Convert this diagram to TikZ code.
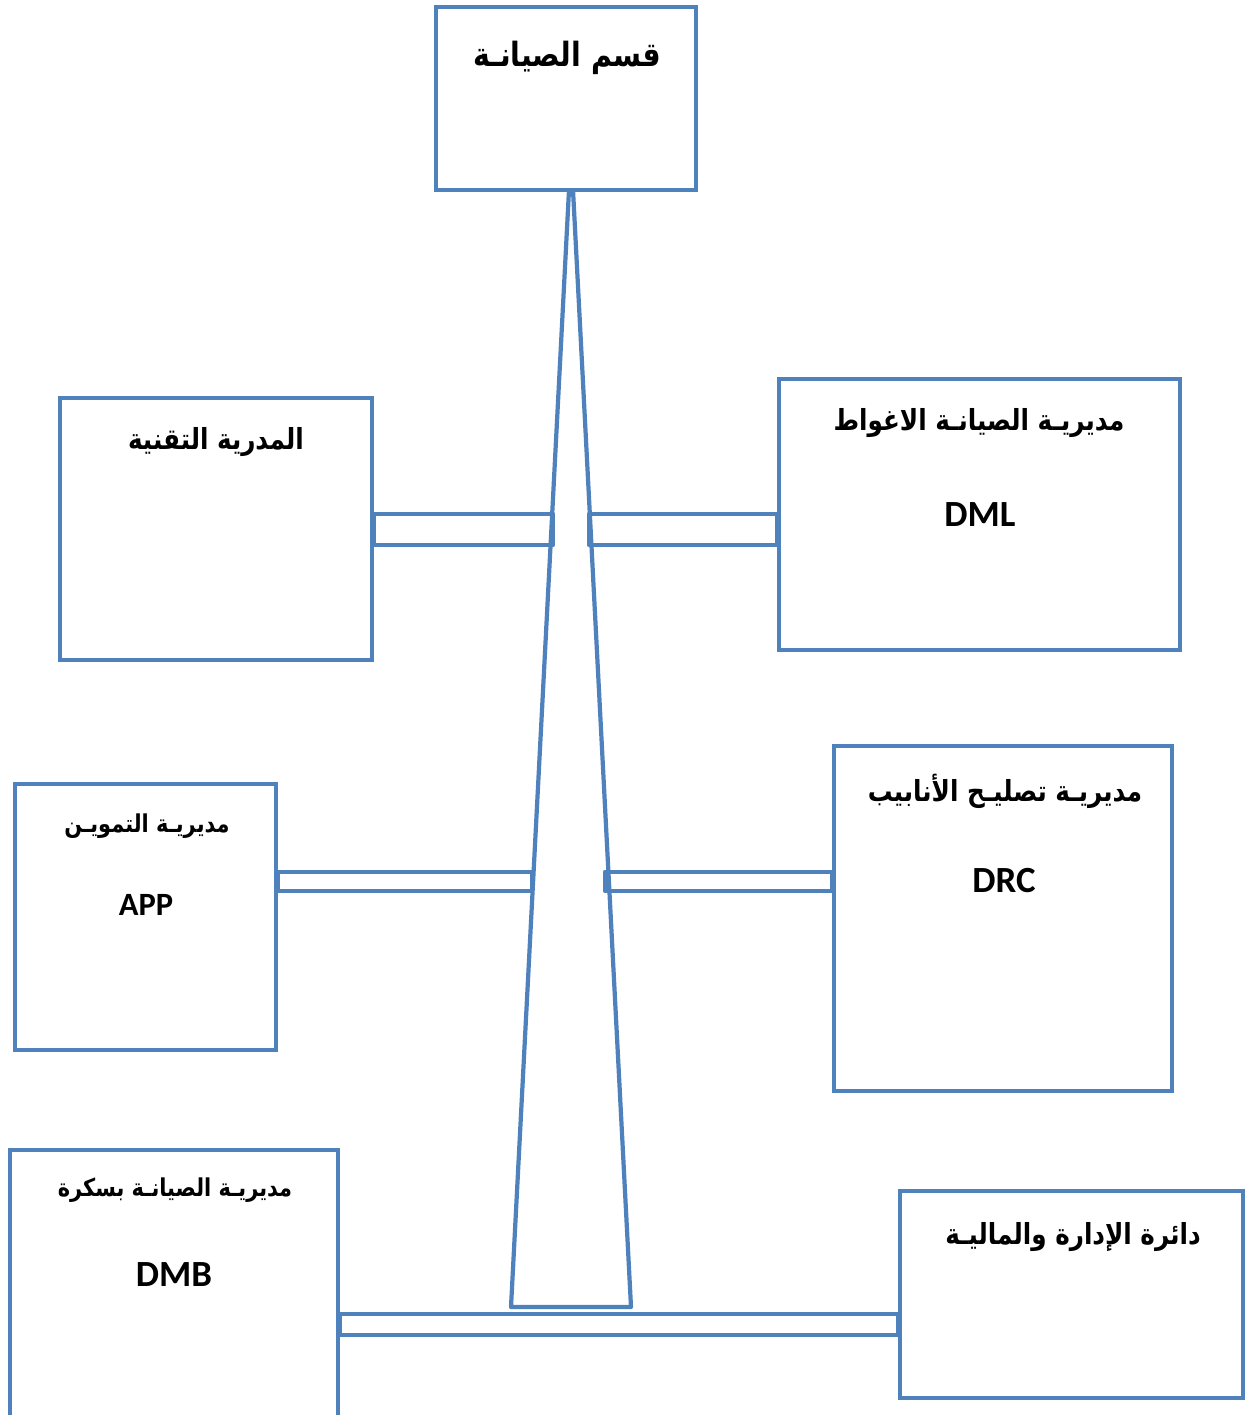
\documentclass[tikz,border=0pt]{standalone}
\usepackage{fontspec}
\usepackage{xcolor}
\usepackage{tikz}
\usetikzlibrary{
    positioning,
    calc
}
\TeXXeTstate=1
\newfontfamily\arabicfont[Script=Arabic, FakeStretch=0.85]{DejaVu Sans}
\newfontfamily\latinfont{Carlito}
\definecolor{officeblue}{HTML}{4F81BD}
\tikzset{
  box/.style = {
      draw=officeblue,
      line width=2.6pt,
      rectangle,
      inner sep=0pt
  },
  bar/.style = {
      draw=officeblue,
      line width=2.4pt,
      line join=round
  },
  head/.style = {
      font=\arabicfont\bfseries\fontsize{19}{22}\selectfont
  },
  title/.style = {
      font=\arabicfont\bfseries\fontsize{16.5}{20}\selectfont
  },
  small title/.style = {
      font=\arabicfont\bfseries\fontsize{14}{17}\selectfont
  },
  code/.style = {
      font=\latinfont\bfseries\fontsize{21}{24}\selectfont
  },
  small code/.style = {
      font=\latinfont\bfseries\fontsize{18.5}{22}\selectfont
  }
}

\begin{document}
\begin{tikzpicture}[x=0.02cm, y=-0.02cm]
    \useasboundingbox (0,0) rectangle (1253,1415);
    \clip (0,0) rectangle (1253,1415);
    % Boxes
    \node[box, minimum width=5.2cm, minimum height=3.66cm] (hq) at (566,98.5) {};
    \node[box, minimum width=6.24cm, minimum height=5.24cm] (tech) at (216,529) {};
    \node[box, minimum width=8.02cm, minimum height=5.42cm] (dml) at (979.5,514.5) {};
    \node[box, minimum width=5.22cm, minimum height=5.32cm] (app) at (145.5,917) {};
    \node[box, minimum width=6.76cm, minimum height=6.9cm] (drc) at (1003,918.5) {};
    \node[box, minimum width=6.56cm, minimum height=5.8cm] (dmb) at (174,1295) {};
    \node[box, minimum width=6.86cm, minimum height=4.14cm] (fin) at (1071.5,1294.5) {};
    % Texts
    \node[head] (hq-t) at (567,58) {\beginR قسم الصيانـة\endR};
    \node[title] (tech-t) at (216,442) {\beginR المدرية التقنية\endR};
    \node[title] (dml-t) at (979,423) {\beginR مديريـة الصيانـة الاغواط\endR};
    \node[code] (dml-c) at (980,515) {DML};
    \node[small title] (app-t) at (147,826) {\beginR مديريـة التمويـن\endR};
    \node[small code] (app-c) at (146,905) {APP};
    \node[title] (drc-t) at (1005,791) {\beginR مديريـة تصليـح الأنابيب\endR};
    \node[code] (drc-c) at (1004,881) {DRC};
    \node[small title] (dmb-t) at (175,1190) {\beginR مديريـة الصيانـة بسكرة\endR};
    \node[code] (dmb-c) at (174,1275) {DMB};
    \node[title] (fin-t) at (1073,1237) {\beginR دائرة الإدارة والماليـة\endR};
    % Trunk
    \coordinate (apexL) at (569,190);
    \coordinate (apexR) at (573,190);
    \coordinate (baseL) at (511,1307);
    \coordinate (baseR) at (631,1307);
    \draw[bar] (apexL) -- (baseL) -- (baseR) -- (apexR);
    % Bars
    \draw[bar] (tech.east |- 0,514) rectangle (553,545);
    \draw[bar] (589,514) rectangle (dml.west |- 0,545);
    \draw[bar] (app.east |- 0,872) rectangle (532,891);
    \draw[bar] (605,872) rectangle (drc.west |- 0,891);
    \draw[bar] (dmb.east |- 0,1314) rectangle (fin.west |- 0,1335);
\end{tikzpicture}
\end{document}
